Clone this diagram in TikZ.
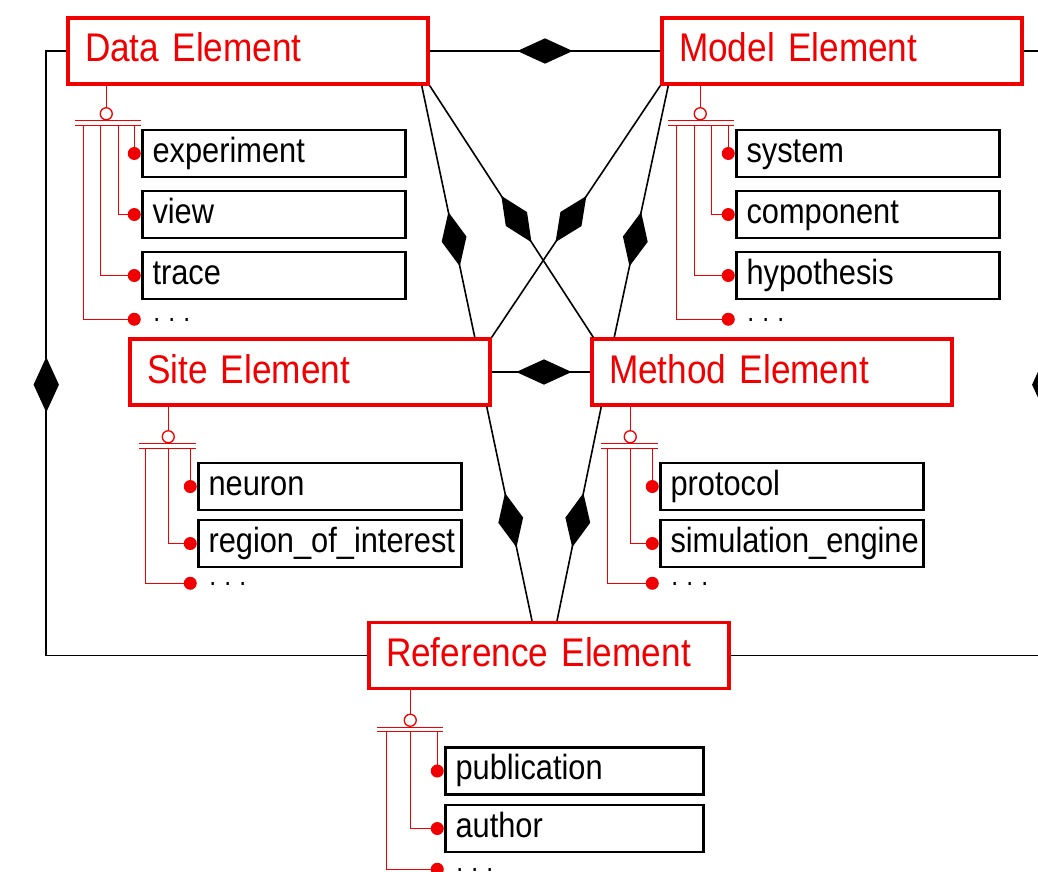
\documentclass[tikz,border=0pt]{standalone}
\usepackage{fontspec}
\setmainfont{Liberation Sans}[FakeStretch=0.88, WordSpace=0.85]
\usetikzlibrary{positioning,shapes.geometric}
\definecolor{cred}{HTML}{F00000}
\tikzset{
  elem/.style={draw=cred, text=cred, line width=3.5pt, font=\fontsize{40}{44}\selectfont,
               text width=326pt, align=left, inner xsep=17pt, inner ysep=0pt,
               minimum height=66pt, text height=30pt, text depth=8pt},
  entry/.style={draw=black, line width=2.5pt, font=\fontsize{35}{40}\selectfont,
                text width=243pt, align=left, inner xsep=10pt, inner ysep=0pt,
                minimum height=47pt, text height=26pt, text depth=9pt},
  etc/.style={font=\fontsize{28}{32}\selectfont, inner xsep=12pt, inner ysep=0pt,
              text height=4pt, text depth=0pt},
  hub/.style={circle, draw=cred, fill=white, line width=1.3pt, minimum size=12pt, inner sep=0pt},
  blob/.style={circle, fill=cred, minimum size=13pt, inner sep=0pt},
  tie/.style={draw=cred, line width=1.3pt},
  link/.style={draw=black, line width=1.6pt},
  dmd/.style={diamond, fill=black, minimum width=56pt, minimum height=26pt, inner sep=0pt, sloped},
}
\begin{document}
\begin{tikzpicture}[x=1pt, y=1pt]
  \clip (0,0) rectangle (1038,-872);

  % main elements
  \node[elem] (data)   at (248,-51)    {Data Element};
  \node[elem] (model)  at (842,-51)    {Model Element};
  \node[elem] (site)   at (310,-372)   {Site Element};
  \node[elem] (method) at (772,-372)   {Method Element};
  \node[elem] (ref)    at (549,-655.5) {Reference Element};

  % aggregations
  \draw[link] (data) -- node[dmd, pos=0.5] {} (model);
  \draw[link] (site) -- node[dmd, pos=0.53] {} (method);
  \draw[link] ([xshift=-8pt]data.south east) -- node[dmd, pos=0.61] {} ([xshift=-17pt]site.north east);
  \draw[link] (data.south east) -- node[dmd, pos=0.53] {} ([xshift=3pt]method.north west);
  \draw[link] (model.south west) -- node[dmd, pos=0.53] {} (site.north east);
  \draw[link] ([xshift=8pt]model.south west) -- node[dmd, pos=0.61] {} ([xshift=24pt]method.north west);
  \draw[link] ([xshift=-5pt]site.south east) -- node[dmd, pos=0.53] {} ([xshift=-17pt]ref.north);
  \draw[link] ([xshift=11pt]method.south west) -- node[dmd, pos=0.53] {} ([xshift=8pt]ref.north);
  \coordinate (lcorner) at ([xshift=-20pt]data.west);
  \coordinate (rcorner) at ([xshift=21pt]model.east);
  \draw[link] (data.west) -- (lcorner) |- node[dmd, pos=0.276] {} (ref.west);
  \draw[link] (model.east) -- (rcorner) |- node[dmd, pos=0.276] {} (ref.east);

  % data
  \node[entry, below right=43pt and 75pt of data.south west] (exp) {experiment};
  \node[entry, below=11.5pt of exp] (view) {view};
  \node[entry, below=11.5pt of view] (trace) {trace};
  \node[etc, below=19pt of trace.south west, anchor=west] (dmore) {. . .};
  \node[hub] (dhub) at ([shift={(40pt,-28pt)}]data.south west) {};
  \draw[tie] (dhub) -- (dhub |- data.south);
  \draw[tie] ([shift={(-31pt,-7pt)}]dhub.center) -- ++(66,0);
  \draw[tie] ([shift={(-31pt,-11.5pt)}]dhub.center) -- ++(66,0);
  \foreach \n/\dx in {exp/28, view/12, trace/-6, dmore/-23}
    \draw[tie] ([shift={(\dx pt,-11.5pt)}]dhub.center) |- ([xshift=-7pt]\n.west) node[blob] {};

  % model
  \node[entry, below right=43pt and 75pt of model.south west] (sys) {system};
  \node[entry, below=11.5pt of sys] (comp) {component};
  \node[entry, below=11.5pt of comp] (hyp) {hypothesis};
  \node[etc, below=19pt of hyp.south west, anchor=west] (mmore) {. . .};
  \node[hub] (mhub) at ([shift={(40pt,-28pt)}]model.south west) {};
  \draw[tie] (mhub) -- (mhub |- model.south);
  \draw[tie] ([shift={(-32pt,-7pt)}]mhub.center) -- ++(66,0);
  \draw[tie] ([shift={(-32pt,-11.5pt)}]mhub.center) -- ++(66,0);
  \foreach \n/\dx in {sys/28, comp/11, hyp/-6, mmore/-24}
    \draw[tie] ([shift={(\dx pt,-11.5pt)}]mhub.center) |- ([xshift=-7pt]\n.west) node[blob] {};

  % site
  \node[entry, below right=55pt and 69pt of site.south west] (neu) {neuron};
  \node[entry, below=7.5pt of neu] (roi) {region\_of\_interest};
  \node[etc, below=15pt of roi.south west, anchor=west] (smore) {. . .};
  \node[hub] (shub) at ([shift={(40pt,-30pt)}]site.south west) {};
  \draw[tie] (shub) -- (shub |- site.south);
  \draw[tie] ([shift={(-29pt,-7pt)}]shub.center) -- ++(57,0);
  \draw[tie] ([shift={(-29pt,-11.5pt)}]shub.center) -- ++(57,0);
  \foreach \n/\dx in {neu/22, roi/0, smore/-23}
    \draw[tie] ([shift={(\dx pt,-11.5pt)}]shub.center) |- ([xshift=-7pt]\n.west) node[blob] {};

  % method
  \node[entry, below right=55pt and 69pt of method.south west] (prot) {protocol};
  \node[entry, below=7.5pt of prot] (sim) {simulation\_engine};
  \node[etc, below=15pt of sim.south west, anchor=west] (tmore) {. . .};
  \node[hub] (thub) at ([shift={(40pt,-30pt)}]method.south west) {};
  \draw[tie] (thub) -- (thub |- method.south);
  \draw[tie] ([shift={(-29pt,-7pt)}]thub.center) -- ++(57,0);
  \draw[tie] ([shift={(-29pt,-11.5pt)}]thub.center) -- ++(57,0);
  \foreach \n/\dx in {prot/22, sim/0, tmore/-23}
    \draw[tie] ([shift={(\dx pt,-11.5pt)}]thub.center) |- ([xshift=-7pt]\n.west) node[blob] {};

  % reference
  \node[entry, text width=238pt, below right=56pt and 77pt of ref.south west] (pub) {publication};
  \node[entry, text width=238pt, below=8pt of pub] (auth) {author};
  \node[etc, below=16pt of auth.south west, anchor=west] (rmore) {. . .};
  \node[hub] (rhub) at ([shift={(43pt,-30pt)}]ref.south west) {};
  \draw[tie] (rhub) -- (rhub |- ref.south);
  \draw[tie] ([shift={(-33pt,-7pt)}]rhub.center) -- ++(66,0);
  \draw[tie] ([shift={(-33pt,-11.5pt)}]rhub.center) -- ++(66,0);
  \foreach \n/\dx in {pub/27, auth/0, rmore/-24}
    \draw[tie] ([shift={(\dx pt,-11.5pt)}]rhub.center) |- ([xshift=-7pt]\n.west) node[blob] {};
\end{tikzpicture}
\end{document}
